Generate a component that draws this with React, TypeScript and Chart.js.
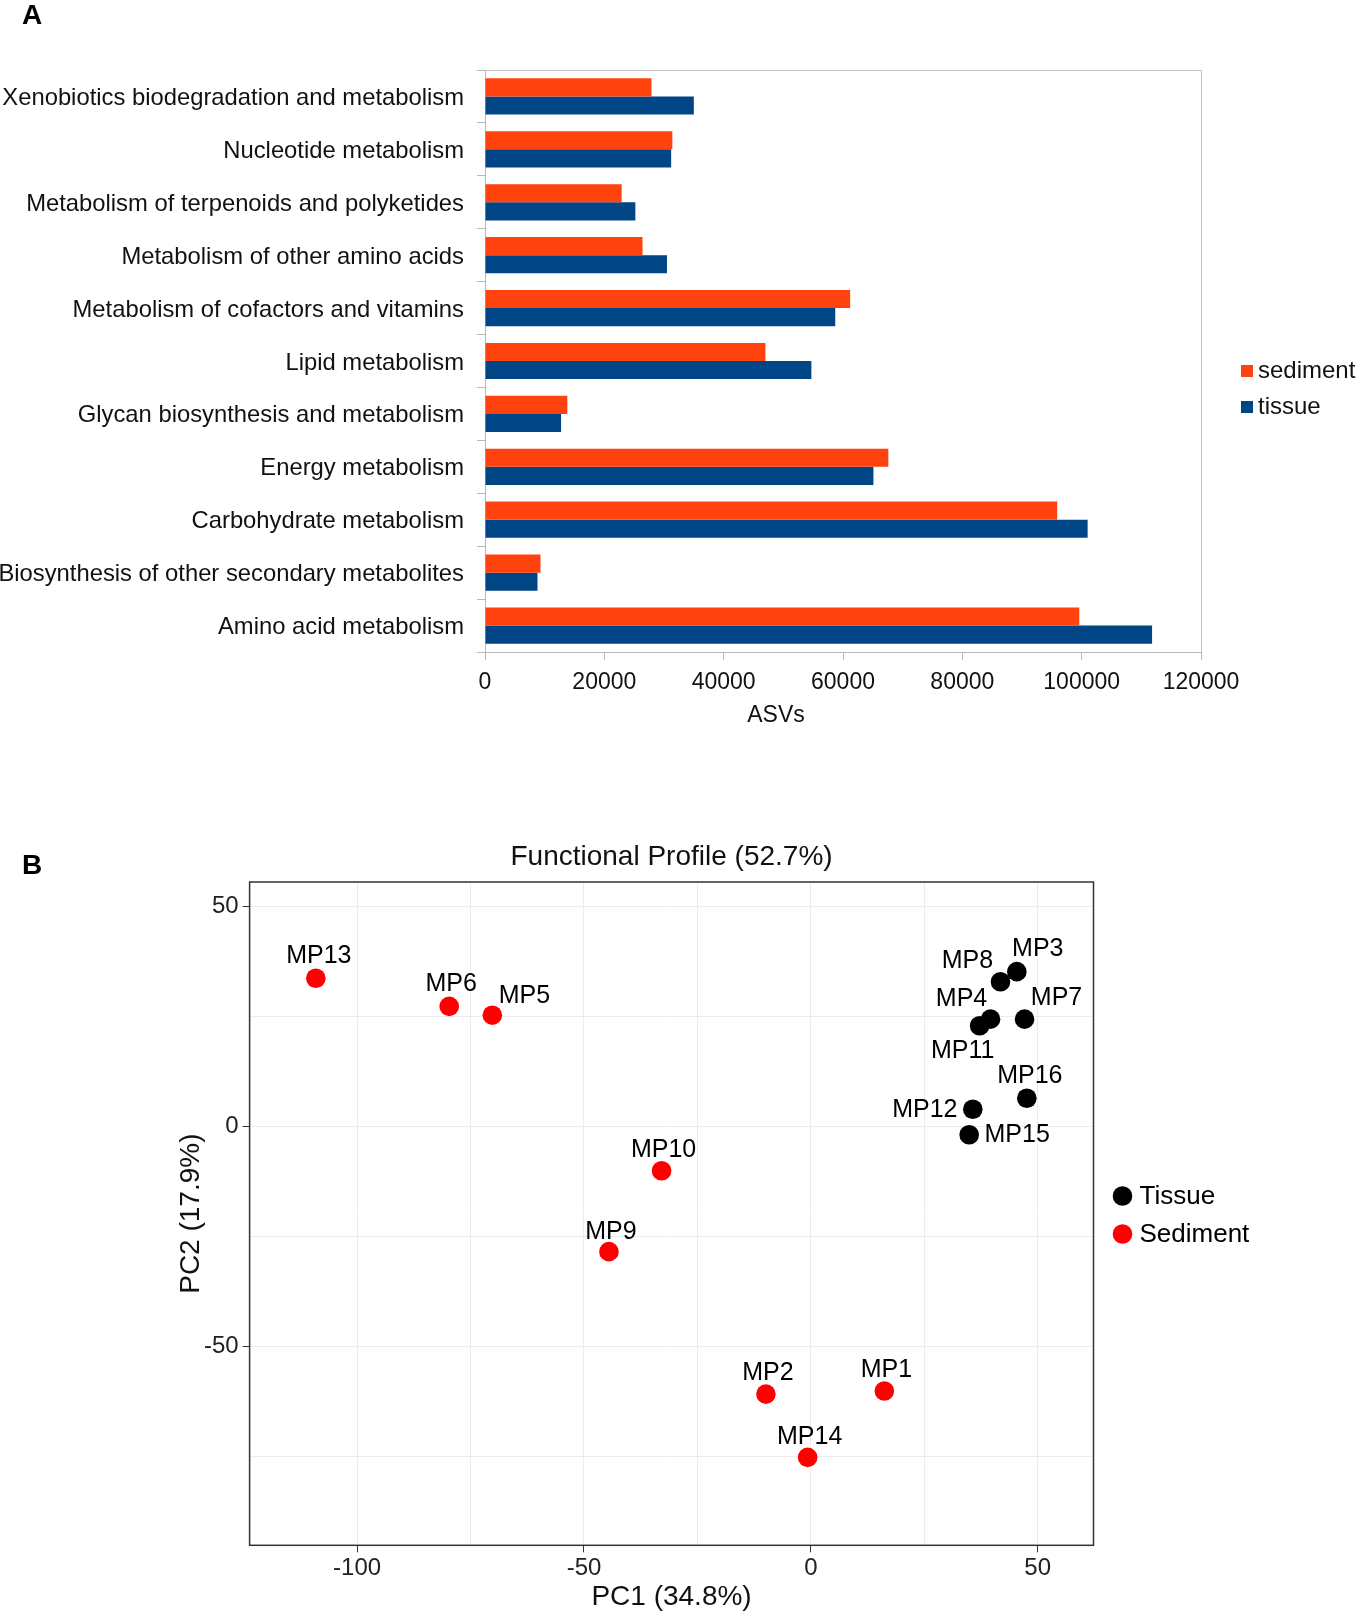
import React, { useEffect, useRef } from 'react';
import { Chart, registerables } from 'chart.js';

Chart.register(...registerables);

// ---------- Panel A data ----------
const categories = [
  'Xenobiotics biodegradation and metabolism',
  'Nucleotide metabolism',
  'Metabolism of terpenoids and polyketides',
  'Metabolism of other amino acids',
  'Metabolism of cofactors and vitamins',
  'Lipid metabolism',
  'Glycan biosynthesis and metabolism',
  'Energy metabolism',
  'Carbohydrate metabolism',
  'Biosynthesis of other secondary metabolites',
  'Amino acid metabolism',
];
const seriesNames = ['sediment', 'tissue'];
const sedimentValues = [27900, 31400, 22900, 26400, 61200, 47000, 13800, 67600, 95900, 9300, 99600];
const tissueValues = [35000, 31200, 25200, 30500, 58700, 54700, 12750, 65100, 101000, 8800, 111800];
const asvMin = 0;
const asvMax = 120000;
const asvStep = 20000;
const asvTitle = 'ASVs';

// ---------- Panel B data ----------
const sampleNames = ['MP1', 'MP2', 'MP3', 'MP4', 'MP5', 'MP6', 'MP7', 'MP8', 'MP9', 'MP10', 'MP11', 'MP12', 'MP13', 'MP14', 'MP15', 'MP16'];
const pc1Values = [16.2, -9.9, 45.4, 39.6, -70.2, -79.7, 47.1, 41.8, -44.5, -32.9, 37.2, 35.7, -109.1, -0.7, 34.9, 47.6];
const pc2Values = [-60.2, -60.9, 35.2, 24.4, 25.3, 27.3, 24.4, 32.9, -28.5, -10.1, 22.9, 3.9, 33.7, -75.3, -1.9, 6.4];
const sampleGroups = ['Sediment', 'Sediment', 'Tissue', 'Tissue', 'Sediment', 'Sediment', 'Tissue', 'Tissue', 'Sediment', 'Sediment', 'Tissue', 'Tissue', 'Sediment', 'Sediment', 'Tissue', 'Tissue'];
const groupNames = ['Tissue', 'Sediment'];
const pc1Range = [-123.7, 62.3];
const pc2Range = [-95.3, 55.6];
const pcTickStep = 25;
const pcLabelStep = 50;

// label placement (pixel offsets from each point, like ggrepel)
const labelOffsets: [number, number][] = [
  [2, -21], [2, -21], [21, -23], [-29, -20], [32, -19], [2, -22], [32, -21], [-33, -21],
  [2, -20], [2, -21], [-17, 25], [-48, 1], [3, -22], [2, -20], [48, 0], [3, -22],
];

const FONT = "'Liberation Sans', Arial, Helvetica, sans-serif";
const barColors = ['#FF420E', '#004586'];
const groupColors = ['#000000', '#FF0000'];

export default function App() {
  const refA = useRef<HTMLCanvasElement>(null);
  const refB = useRef<HTMLCanvasElement>(null);

  useEffect(() => {
    document.body.style.margin = '0';
    Chart.defaults.font.family = FONT;

    const frameA = {
      id: 'frameA',
      afterDraw(chart: any) {
        const { ctx, chartArea } = chart;
        const { left, top, right, bottom } = chartArea;
        ctx.save();
        ctx.strokeStyle = '#c4c4c4';
        ctx.lineWidth = 1;
        ctx.beginPath();
        ctx.moveTo(left, top + 0.5);
        ctx.lineTo(right + 0.5, top + 0.5);
        ctx.lineTo(right + 0.5, bottom);
        ctx.stroke();
        // axis title
        ctx.font = `23px ${FONT}`;
        ctx.textBaseline = 'middle';
        ctx.textAlign = 'center';
        ctx.fillStyle = '#111';
        ctx.fillText(asvTitle, 776, 716);
        // legend
        ctx.font = `24px ${FONT}`;
        ctx.textAlign = 'left';
        chart.data.datasets.forEach((ds: any, i: number) => {
          const y = 371 + i * 36;
          ctx.fillStyle = ds.backgroundColor;
          ctx.fillRect(right + 40, y - 6, 12, 12);
          ctx.fillStyle = '#111';
          ctx.fillText(ds.label, right + 57, y);
        });
        ctx.restore();
      },
    };

    const chartA = new Chart(refA.current!, {
      type: 'bar',
      data: {
        labels: categories,
        datasets: [
          { label: seriesNames[0], data: sedimentValues, backgroundColor: barColors[0], categoryPercentage: 0.685, barPercentage: 1 },
          { label: seriesNames[1], data: tissueValues, backgroundColor: barColors[1], categoryPercentage: 0.685, barPercentage: 1 },
        ],
      },
      options: {
        indexAxis: 'y',
        animation: false,
        responsive: true,
        maintainAspectRatio: false,
        layout: { padding: { top: 70, right: 157, left: 0, bottom: 0 } },
        plugins: { legend: { display: false }, tooltip: { enabled: false } },
        scales: {
          x: {
            min: asvMin,
            max: asvMax,
            ticks: {
              stepSize: asvStep,
              font: { size: 23 },
              color: '#111',
              padding: 9,
              maxRotation: 0,
              callback: (v: any) => String(v),
            },
            grid: { drawOnChartArea: false, tickLength: 8, color: '#b8b8b8' },
            border: { color: '#b8b8b8' },
            afterFit: (s: any) => { s.height = 88; s.paddingLeft = 0; s.paddingRight = 0; },
          },
          y: {
            ticks: { font: { size: 23.8 }, color: '#111', padding: 13, autoSkip: false, labelOffset: 2 },
            grid: { drawOnChartArea: false, tickLength: 8, color: '#b8b8b8' },
            border: { color: '#b8b8b8' },
            afterFit: (s: any) => { s.width = 485; s.paddingTop = 0; s.paddingBottom = 0; },
          },
        },
      },
      plugins: [frameA],
    } as any);

    const frameB = {
      id: 'frameB',
      afterDraw(chart: any) {
        const { ctx, chartArea } = chart;
        const { left, top, right, bottom } = chartArea;
        ctx.save();
        ctx.strokeStyle = '#333333';
        ctx.lineWidth = 1.5;
        ctx.strokeRect(left, top, right - left, bottom - top);
        // legend
        ctx.font = `26px ${FONT}`;
        ctx.textBaseline = 'middle';
        ctx.textAlign = 'left';
        chart.data.datasets.forEach((ds: any, i: number) => {
          const y = 436 + i * 38;
          ctx.fillStyle = ds.backgroundColor;
          ctx.beginPath();
          ctx.arc(right + 29, y, 9.8, 0, Math.PI * 2);
          ctx.fill();
          ctx.fillStyle = '#000';
          ctx.fillText(ds.label, right + 46, y + 1);
        });
        ctx.restore();
      },
      afterDatasetsDraw(chart: any) {
        const { ctx } = chart;
        ctx.save();
        ctx.font = `25px ${FONT}`;
        ctx.textAlign = 'center';
        ctx.textBaseline = 'middle';
        ctx.fillStyle = '#000';
        chart.data.datasets.forEach((ds: any, di: number) => {
          const meta = chart.getDatasetMeta(di);
          meta.data.forEach((el: any, j: number) => {
            const idx = ds.data[j].idx;
            const [dx, dy] = labelOffsets[idx];
            ctx.fillText(sampleNames[idx], el.x + dx, el.y + dy);
          });
        });
        ctx.restore();
      },
    };

    const isMajor = (v: number) => Math.abs(v % pcLabelStep) < 1e-9;
    const tickColorFn = (c: any) => (c.tick && isMajor(c.tick.value) ? '#333333' : 'rgba(0,0,0,0)');

    const chartB = new Chart(refB.current!, {
      type: 'scatter',
      data: {
        datasets: groupNames.map((g, gi) => ({
          label: g,
          data: sampleNames
            .map((_, i) => ({ x: pc1Values[i], y: pc2Values[i], idx: i, g: sampleGroups[i] }))
            .filter((p) => p.g === g),
          backgroundColor: groupColors[gi],
          borderWidth: 0,
          pointRadius: 9.8,
          pointHoverRadius: 9.8,
        })),
      },
      options: {
        animation: false,
        responsive: true,
        maintainAspectRatio: false,
        layout: { padding: { top: 0, right: 264.5, left: 0, bottom: 0 } },
        plugins: {
          legend: { display: false },
          tooltip: { enabled: false },
          title: {
            display: true,
            text: 'Functional Profile (52.7%)',
            fullSize: false,
            font: { size: 28, weight: 'normal' },
            color: '#111',
            padding: { top: 80.5, bottom: 7.9 },
          },
        },
        scales: {
          x: {
            type: 'linear',
            min: pc1Range[0],
            max: pc1Range[1],
            ticks: {
              stepSize: pcTickStep,
              includeBounds: false,
              font: { size: 24 },
              color: '#222',
              padding: 2,
              maxRotation: 0,
              autoSkip: false,
              callback: (v: any) => (isMajor(Number(v)) ? String(v) : ''),
            },
            grid: { color: '#ececec', tickLength: 7, tickColor: tickColorFn },
            border: { display: false },
            title: { display: true, text: 'PC1 (34.8%)', font: { size: 28 }, color: '#111', padding: { top: 0, bottom: 3 } },
            afterFit: (s: any) => { s.height = 71.7; s.paddingLeft = 0; s.paddingRight = 0; },
          },
          y: {
            type: 'linear',
            min: pc2Range[0],
            max: pc2Range[1],
            ticks: {
              stepSize: pcTickStep,
              includeBounds: false,
              font: { size: 24 },
              color: '#222',
              padding: 4,
              autoSkip: false,
              callback: (v: any) => (isMajor(Number(v)) ? String(v) : ''),
            },
            grid: { color: '#ececec', tickLength: 7, tickColor: tickColorFn },
            border: { display: false },
            title: { display: true, text: 'PC2 (17.9%)', font: { size: 28 }, color: '#111', padding: { top: 174, bottom: 0 } },
            afterFit: (s: any) => { s.width = 249.6; s.paddingTop = 0; s.paddingBottom = 0; },
          },
        },
      },
      plugins: [frameB],
    } as any);

    return () => {
      chartA.destroy();
      chartB.destroy();
    };
  }, []);

  const letterStyle: React.CSSProperties = {
    position: 'absolute',
    left: 22,
    fontFamily: FONT,
    fontWeight: 'bold',
    fontSize: 28,
    lineHeight: 1,
    color: '#000',
  };

  return (
    <div style={{ position: 'relative', width: 1358, height: 1617, background: '#fff', overflow: 'hidden' }}>
      <div style={{ position: 'absolute', left: 0, top: 0, width: 1358, height: 740 }}>
        <canvas ref={refA} />
      </div>
      <div style={{ position: 'absolute', left: 0, top: 760, width: 1358, height: 857 }}>
        <canvas ref={refB} />
      </div>
      <div style={{ ...letterStyle, top: 1 }}>A</div>
      <div style={{ ...letterStyle, top: 851 }}>B</div>
    </div>
  );
}
